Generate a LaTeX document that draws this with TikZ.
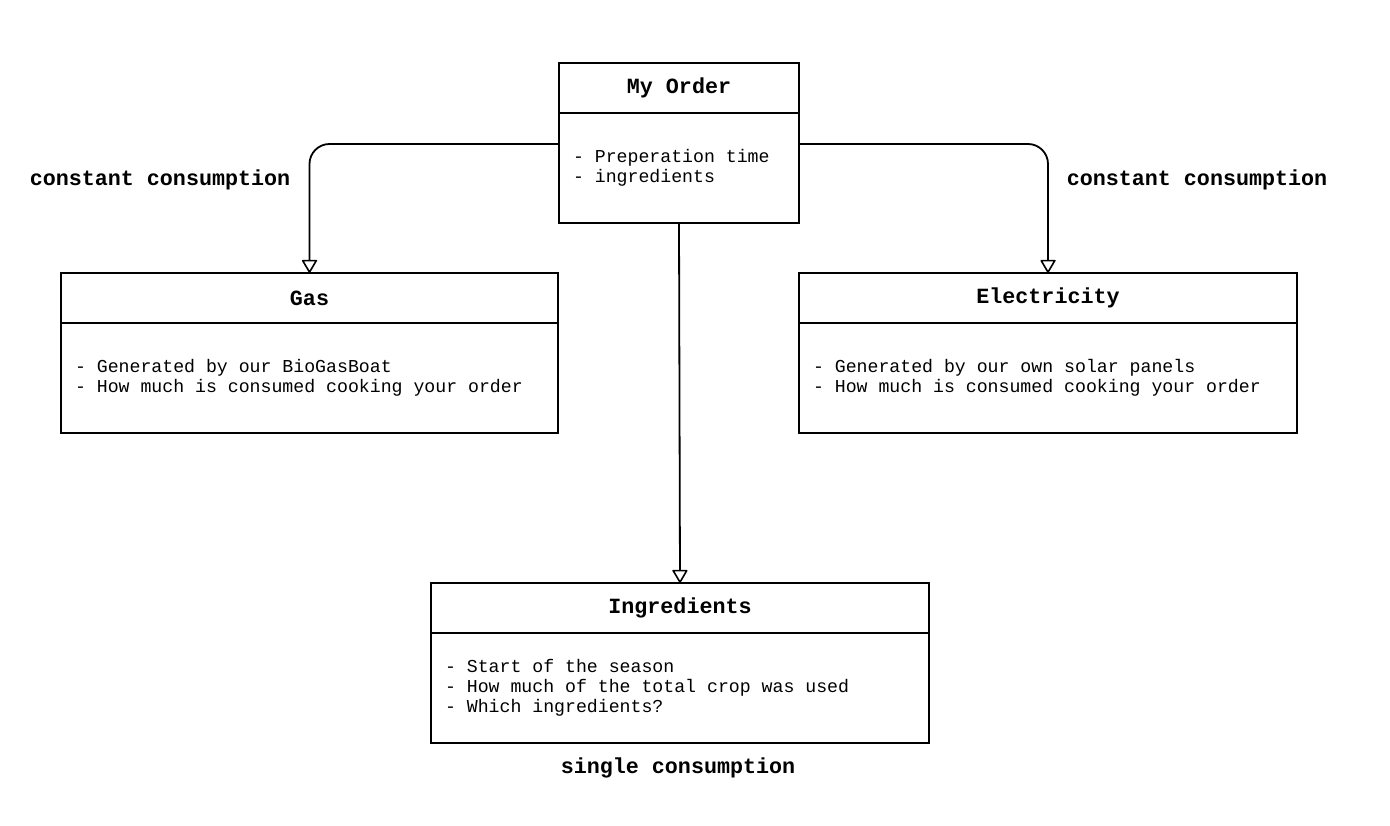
\documentclass[tikz,border=0pt]{standalone}
\usepackage{fontspec}
\setmainfont{Liberation Mono}
\newcommand\fixmonospace{\spaceskip=0.6em\relax\xspaceskip=0.6em\relax}
\usetikzlibrary{arrows.meta}
\begin{document}
\begin{tikzpicture}[x=1pt,y=-1pt,
  hdr/.style={draw, line width=1.8pt, minimum height=50pt, inner sep=0pt, outer sep=0pt,
    font=\fontsize{21.7}{24}\bfseries\selectfont, anchor=north west},
  bdy/.style={draw, line width=1.8pt, minimum height=110pt, inner xsep=14pt, inner ysep=0pt, outer sep=0pt,
    align=left, font=\fontsize{18.2}{20}\selectfont, anchor=north},
  conn/.style={line width=1.8pt, rounded corners=20pt,
    -{Triangle[open, length=14pt, width=16pt, line width=1.6pt, round]}},
  lbl/.style={font=\fontsize{21.7}{24}\bfseries\selectfont}]
\fill[white] (0,0) rectangle (1390,826);
\useasboundingbox (0,0) rectangle (1390,826);

% My Order
\node[hdr, minimum width=240pt] (orderh) at (559,63) {My Order};
\node[bdy, text width=212pt] (orderb) at (orderh.south) {\fixmonospace - Preperation time\\- ingredients};

% Gas
\node[hdr, minimum width=497pt] (gash) at (61,273) {Gas};
\node[bdy, text width=469pt] (gasb) at (gash.south) {\fixmonospace - Generated by our BioGasBoat\\- How much is consumed cooking your order};

% Electricity
\node[hdr, minimum width=498pt] (elech) at (799,273) {Electricity};
\node[bdy, text width=470pt] (elecb) at (elech.south) {\fixmonospace - Generated by our own solar panels\\- How much is consumed cooking your order};

% Ingredients
\node[hdr, minimum width=498pt] (ingh) at (431,583) {Ingredients};
\node[bdy, text width=470pt] (ingb) at (ingh.south) {\fixmonospace - Start of the season\\- How much of the total crop was used\\- Which ingredients?};

% connectors
\draw[conn] ([yshift=24pt]orderb.west) -| (gash.north);
\draw[conn] ([yshift=24pt]orderb.east) -| (elech.north);
\draw[conn] (orderb.south) -- (ingh.north);

% labels
\node[lbl] (lblgas) at (160,180) {constant consumption};
\node[lbl] (lblelec) at (1197,180) {constant consumption};
\node[lbl] (lbling) at (678,768) {single consumption};
\end{tikzpicture}
\end{document}
